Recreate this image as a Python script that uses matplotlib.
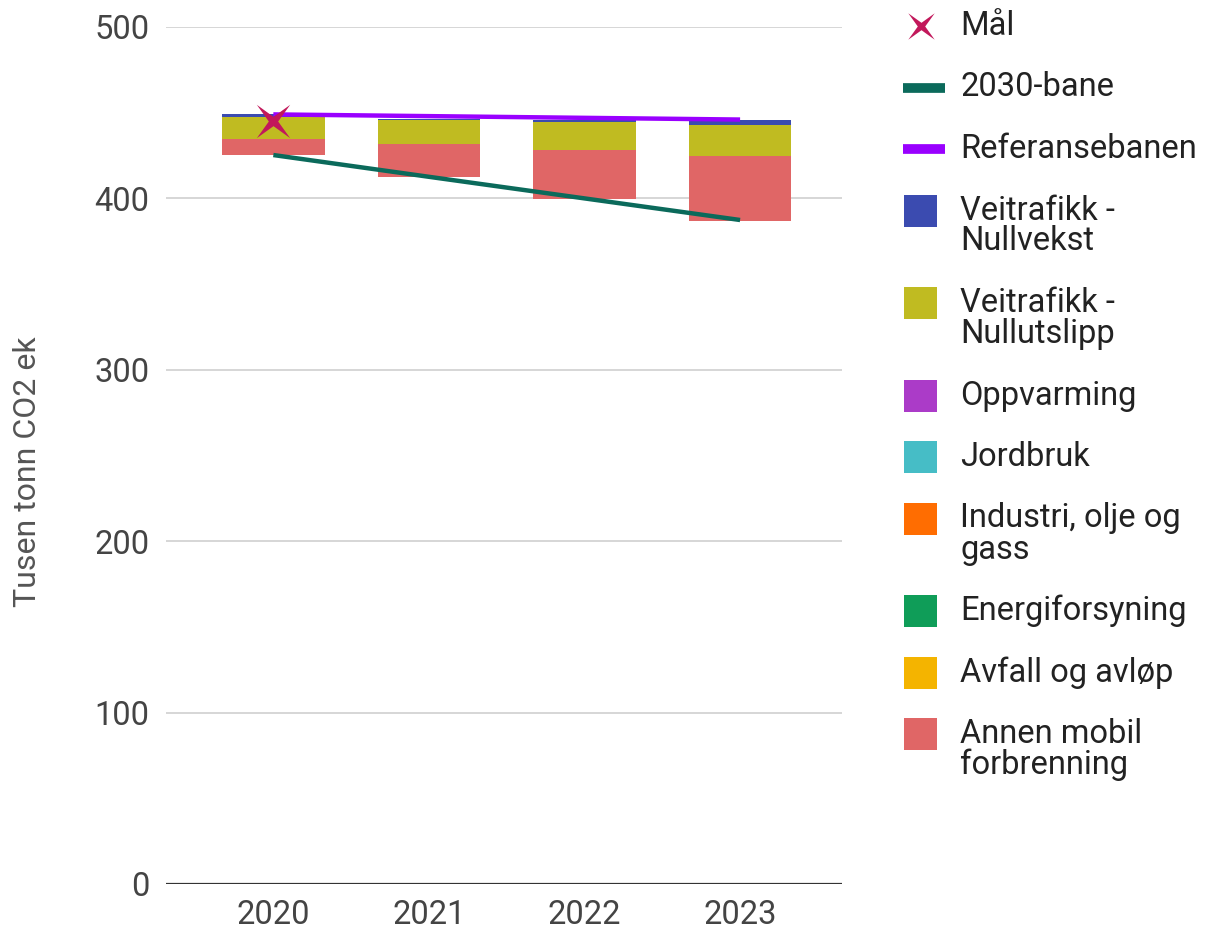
import matplotlib.pyplot as plt
from matplotlib.patches import Rectangle
from matplotlib.lines import Line2D
from matplotlib.path import Path

plt.rcParams['font.family'] = ['Roboto', 'DejaVu Sans']

years = ["2020", "2021", "2022", "2023"]

# invisible base of the floating stack (bottom of each bar)
base = [425.3, 412.3, 399.4, 387.0]
annen_mobil = [9.1, 19.2, 28.8, 37.7]
avfall = [0, 0, 0, 0]
energi = [0, 0, 0, 0]
industri = [0, 0, 0, 0]
jordbruk = [0, 0, 0, 0]
oppvarming = [0, 0, 0, 0]
nullutslipp = [13.2, 14.5, 16.5, 18.1]
nullvekst = [1.6, 0.4, 0.8, 2.9]

bane_2030 = [425.3, 412.6, 400.0, 387.4]
referanse = [449.0, 448.0, 447.0, 446.0]
maal = [445.0]

stack = [
    ("Annen mobil\nforbrenning", annen_mobil, "#e06666"),
    ("Avfall og avløp", avfall, "#f4b400"),
    ("Energiforsyning", energi, "#0f9d58"),
    ("Industri, olje og\ngass", industri, "#ff6d01"),
    ("Jordbruk", jordbruk, "#46bdc6"),
    ("Oppvarming", oppvarming, "#ab3bc8"),
    ("Veitrafikk -\nNullutslipp", nullutslipp, "#c0bb21"),
    ("Veitrafikk -\nNullvekst", nullvekst, "#3b4bb0"),
]

# thin four-pointed star, points on the diagonals (x shape)
r_in = 0.28
star_verts = [(1, 1), (r_in, 0), (1, -1), (0, -r_in), (-1, -1), (-r_in, 0),
              (-1, 1), (0, r_in), (1, 1)]
star = Path(star_verts, closed=True)

fig = plt.figure(figsize=(12.06, 9.31), dpi=100)
ax = fig.add_axes([166 / 1206, 1 - 884 / 931, (842 - 166) / 1206, (884 - 27) / 931])

x = list(range(len(years)))
bottom = list(base)
for name, vals, col in stack:
    ax.bar(x, vals, bottom=bottom, width=0.66, color=col, linewidth=0, zorder=2)
    bottom = [b + v for b, v in zip(bottom, vals)]

ax.plot(x, bane_2030, color="#0b6a5b", lw=3.2, zorder=3, solid_capstyle="butt")
ax.plot(x, referanse, color="#9900ff", lw=3.2, zorder=3, solid_capstyle="butt")
ax.plot(x[:1], maal, linestyle="none", marker=star, markersize=24,
        color="#c2185b", markeredgewidth=0, zorder=4)

ax.set_xlim(-0.69, 3.655)
ax.set_ylim(0, 500)
ax.set_yticks([0, 100, 200, 300, 400, 500])
ax.set_xticks(x)
ax.set_xticklabels(years)
ax.grid(axis="y", color="#cccccc", lw=1.1, zorder=0)
ax.set_axisbelow(True)
for s in ["top", "right", "left", "bottom"]:
    ax.spines[s].set_visible(False)
ax.axhline(0, color="#333333", lw=1.6, zorder=3)
ax.tick_params(axis="both", length=0, labelsize=23.5, colors="#444444")
ax.tick_params(axis="y", pad=12)
ax.tick_params(axis="x", pad=11)

fig.text(28 / 1206, 1 - 472 / 931, "Tusen tonn CO2 ek", rotation=90,
         ha="center", va="center", fontsize=23, color="#555555")

# legend drawn in pixel coordinates on an overlay axes
lg = fig.add_axes([0, 0, 1, 1])
lg.set_xlim(0, 1206)
lg.set_ylim(931, 0)
lg.axis("off")

entries = [("Mål", "star", "#c2185b"),
           ("2030-bane", "line", "#0b6a5b"),
           ("Referansebanen", "line", "#9900ff")]
entries += [(name, "box", col) for name, vals, col in reversed(stack)]

y = 26
for name, kind, col in entries:
    if kind == "star":
        lg.plot([921], [y], marker=star, markersize=19, color=col,
                markeredgewidth=0, linestyle="none")
    elif kind == "line":
        lg.add_line(Line2D([903, 945], [y, y], color=col, lw=7, solid_capstyle="butt"))
    else:
        lg.add_patch(Rectangle((904, y - 16), 33, 32, color=col, linewidth=0))
    lines = name.split("\n")
    for i, ln in enumerate(lines):
        lg.text(960, y + i * 31, ln, fontsize=23.5, color="#222222", va="center", ha="left")
    y += 61.5 + 31 * (len(lines) - 1)

fig.savefig("out.png", dpi=100)
